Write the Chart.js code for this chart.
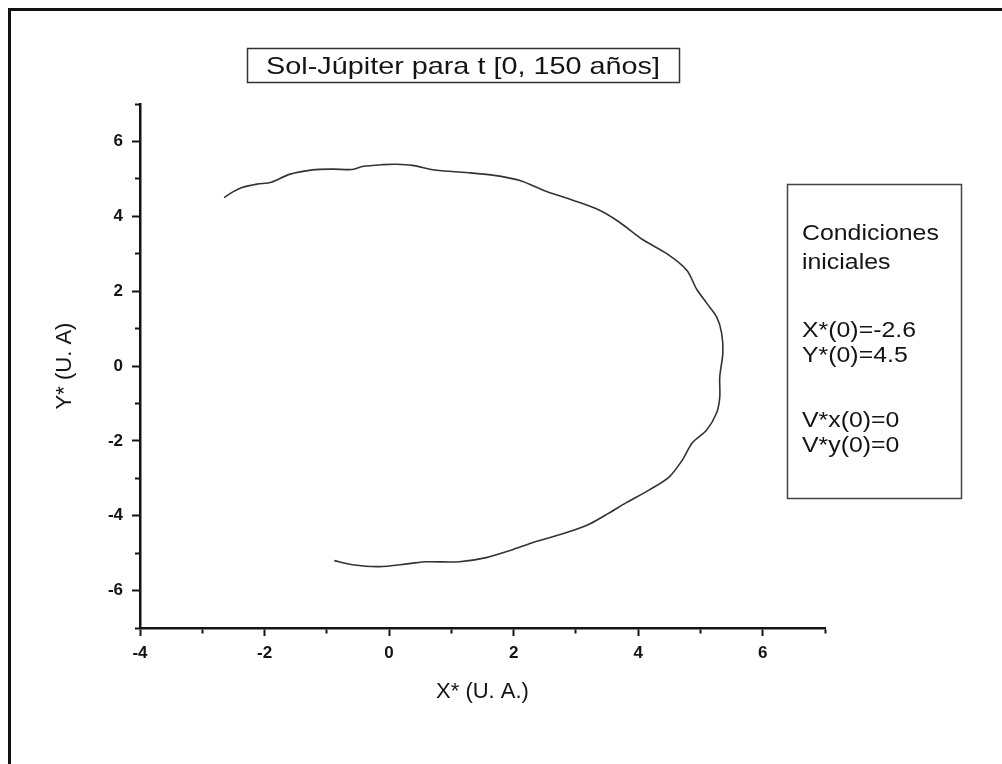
<!DOCTYPE html>
<html>
<head>
<meta charset="utf-8">
<title>Sol-Júpiter</title>
<script src="https://cdn.jsdelivr.net/npm/chart.js@4.4.1/dist/chart.umd.min.js"></script>
<style>
    html, body { margin: 0; padding: 0; background: #fff; }
    #wrap { width: 1002px; height: 764px; position: relative; }
</style>
</head>
<body>
<div id="wrap"><canvas id="orbitChart"></canvas></div>
<script>
// Trayectoria Sol-Júpiter, coordenadas adimensionales en U. A.
const orbitX = [
    -2.65, -2.50, -2.36, -2.12, -1.89, -1.60, -1.23, -0.90, -0.59, -0.43,
    -0.10,  0.12,  0.37,  0.76,  1.24,  1.66,  2.09,  2.53,  2.95,  3.38,
     3.70,  4.07,  4.46,  4.78,  4.94,  5.10,  5.26,  5.34,  5.36,  5.31,
     5.31,  5.26,  5.10,  4.87,  4.71,  4.50,  4.18,  3.81,  3.54,  3.22,
     2.85,  2.30,  1.98,  1.56,  1.13,  0.60,  0.32, -0.16, -0.59, -0.88
];
const orbitY = [
     4.50,  4.66,  4.77,  4.86,  4.91,  5.12,  5.24,  5.26,  5.25,  5.33,
     5.38,  5.39,  5.36,  5.23,  5.17,  5.10,  4.96,  4.66,  4.43,  4.16,
     3.84,  3.38,  3.00,  2.56,  2.05,  1.68,  1.31,  0.88,  0.35, -0.29,
    -0.83, -1.25, -1.71, -2.05, -2.51, -2.96, -3.31, -3.65, -3.92, -4.22,
    -4.45, -4.72, -4.91, -5.12, -5.23, -5.23, -5.28, -5.36, -5.31, -5.20
];

// marcas con número; el resto son marcas menores
const xTickLabels = [-4, -2, 0, 2, 4, 6];
const yTickLabels = [-6, -4, -2, 0, 2, 4, 6];

const chartTitle = 'Sol-Júpiter para t [0, 150 años]';
const xAxisTitle = 'X* (U. A.)';
const yAxisTitle = 'Y* (U. A)';
const initialConditions = ['Condiciones', 'iniciales', 'X*(0)=-2.6', 'Y*(0)=4.5', 'V*x(0)=0', 'V*y(0)=0'];

const FONT = "'Liberation Sans', Arial, sans-serif";
const INK = '#141414';

// marco, recuadro del título y recuadro de condiciones iniciales
const boxesPlugin = {
    id: 'boxes',
    beforeDraw(chart) {
        const ctx = chart.ctx;
        ctx.save();
        ctx.fillStyle = '#fff';
        ctx.fillRect(0, 0, chart.width, chart.height);
        ctx.restore();
    },
    afterDraw(chart) {
        const ctx = chart.ctx;
        ctx.save();

        // marco exterior
        ctx.strokeStyle = '#111';
        ctx.lineWidth = 3;
        ctx.beginPath();
        ctx.moveTo(chart.width, 9.5);
        ctx.lineTo(9.5, 9.5);
        ctx.lineTo(9.5, chart.height);
        ctx.stroke();

        // título
        ctx.strokeStyle = '#333';
        ctx.lineWidth = 1.5;
        ctx.strokeRect(247.5, 48.5, 432, 34);
        ctx.fillStyle = INK;
        ctx.font = '24px ' + FONT;
        ctx.textBaseline = 'alphabetic';
        ctx.textAlign = 'center';
        ctx.save();
        ctx.translate(463, 74);
        ctx.scale(1.2, 1);
        ctx.fillText(chartTitle, 0, 0);
        ctx.restore();

        // condiciones iniciales
        ctx.strokeStyle = '#444';
        ctx.strokeRect(787.5, 184.5, 174, 314);
        ctx.textAlign = 'left';
        ctx.font = '22px ' + FONT;
        const baselines = [240, 269, 337, 362, 427, 452];
        initialConditions.forEach((line, i) => {
            ctx.save();
            ctx.translate(802, baselines[i]);
            ctx.scale(1.13, 1);
            ctx.fillText(line, 0, 0);
            ctx.restore();
        });

        ctx.restore();
    }
};

// marcas menores más cortas: solo se pinta la parte pegada al eje
function minorDash(labels) {
    return c => (c.tick && labels.includes(c.tick.value)) ? [] : [4, 8];
}

function createChart() {
    const points = orbitX.map((x, i) => ({x: x, y: orbitY[i]}));

    new Chart(document.getElementById('orbitChart'), {
        type: 'scatter',
        data: {
            datasets: [{
                data: points,
                showLine: true,
                pointRadius: 0,
                borderColor: '#333',
                borderWidth: 1.6,
                tension: 0.3,
                fill: false
            }]
        },
        options: {
            responsive: true,
            maintainAspectRatio: false,
            animation: false,
            layout: {
                padding: {left: 0, top: 104, right: 177, bottom: 0}
            },
            scales: {
                x: {
                    type: 'linear',
                    min: -4,
                    max: 7,
                    afterFit: s => { s.height = 136; },
                    ticks: {
                        stepSize: 1,
                        autoSkip: false,
                        maxRotation: 0,
                        padding: 7,
                        color: INK,
                        font: {family: FONT, size: 17, weight: 'bold'},
                        callback: v => xTickLabels.includes(v) ? String(v) : ''
                    },
                    grid: {
                        drawOnChartArea: false,
                        drawTicks: true,
                        tickLength: 8,
                        tickColor: INK,
                        tickWidth: 2,
                        tickBorderDash: minorDash(xTickLabels)
                    },
                    border: {display: true, color: INK, width: 2.5},
                    title: {
                        display: true,
                        text: xAxisTitle,
                        color: INK,
                        font: {family: FONT, size: 22},
                        padding: {top: 0, bottom: 59}
                    }
                },
                y: {
                    type: 'linear',
                    min: -7,
                    max: 7,
                    afterFit: s => { s.width = 140; },
                    ticks: {
                        stepSize: 1,
                        autoSkip: false,
                        padding: 9,
                        color: INK,
                        font: {family: FONT, size: 17, weight: 'bold'},
                        callback: v => yTickLabels.includes(v) ? String(v) : ''
                    },
                    grid: {
                        drawOnChartArea: false,
                        drawTicks: true,
                        tickLength: 8,
                        tickColor: INK,
                        tickWidth: 2,
                        tickBorderDash: minorDash(yTickLabels),
                        tickBorderDashOffset: 9
                    },
                    border: {display: true, color: INK, width: 2.5},
                    title: {
                        display: true,
                        text: yAxisTitle,
                        color: INK,
                        font: {family: FONT, size: 22},
                        padding: {top: 52, bottom: 0}
                    }
                }
            },
            plugins: {
                legend: {display: false},
                tooltip: {enabled: false}
            }
        },
        plugins: [boxesPlugin]
    });
}

createChart();
</script>
</body>
</html>
